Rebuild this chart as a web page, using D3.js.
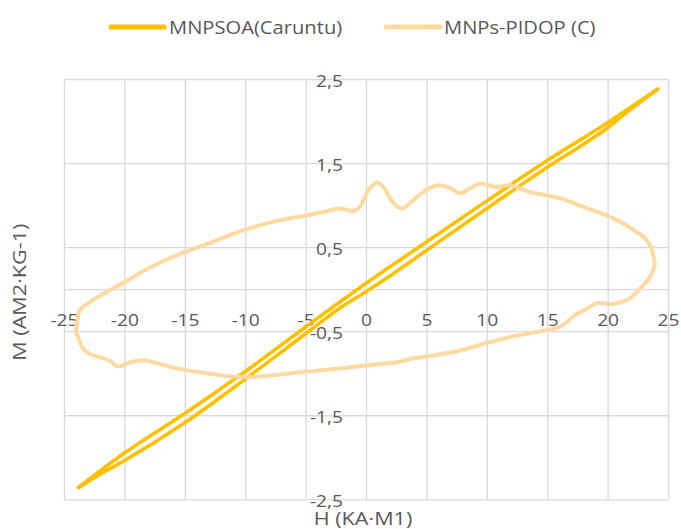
<!DOCTYPE html>
<html>
<head>
<meta charset="utf-8">
<script src="https://cdn.jsdelivr.net/npm/d3@7"></script>
<style>
  html, body { margin: 0; padding: 0; background: #fff; }
  svg { display: block; }
  text { font-family: "Open Sans", "Noto Sans", sans-serif; fill: #595959; }
</style>
</head>
<body>
<svg id="chart" width="681" height="529"></svg>
<script>
// ---------- data ----------
const seriesNames = ["MNPSOA(Caruntu)", "MNPs-PIDOP (C)"];
const seriesColors = ["#FFC000", "#FFD9A0"];

const xTickValues = [-25, -20, -15, -10, -5, 0, 5, 10, 15, 20, 25];
const yTickValues = [-2.5, -1.5, -0.5, 0.5, 1.5, 2.5];

const xTitle = "H (KA·M1)";
const yTitle = "M (AM2·KG-1)";

// MNPSOA (Caruntu): lower (ascending) branch and upper (descending) branch, both listed by increasing H
const soaLowH = [-23.8, -22, -20, -15, -10, -5, -2, 0, 2, 5, 10, 15, 20, 22, 24.15];
const soaLowM = [-2.36, -2.20, -2.04, -1.59, -1.07, -0.53, -0.21, -0.03, 0.16, 0.46, 0.96, 1.45, 1.92, 2.15, 2.38];
const soaHighH = [-23.8, -20, -15, -10, -5, 0, 5, 10, 15, 20, 24.15];
const soaHighM = [-2.36, -1.95, -1.48, -0.98, -0.45, 0.07, 0.56, 1.05, 1.53, 1.98, 2.38];

// MNPs-PIDOP (C): closed loop, traced around
const pidopH = [-24.0, -23.9, -23.7, -22.6, -21.2, -19.8, -18.5, -17.0, -15.0, -12.9, -10.2, -7.7, -4.9, -3.5, -2.3, -1.5, -1.0, -0.5,
  0.2, 0.9, 1.4, 2.3, 3.0, 3.9, 5.0, 6.0, 7.0, 7.8, 8.6, 9.4, 10.8, 11.9, 13.6, 14.8, 16.1, 18.0, 19.9, 21.3, 22.4, 23.0, 23.6, 23.8, 23.9,
  23.5, 22.7, 21.85, 21.2, 20.2, 19.1, 18.3, 17.2, 16.3, 15.6, 14.1, 12.5, 10.0, 7.8, 5.5, 4.0, 2.5, -0.2, -2.2, -5.5, -9.0, -11.0,
  -13.2, -15.8, -18.4, -19.5, -20.6, -21.1, -22.0, -22.9, -23.5, -23.8];
const pidopM = [-0.51, -0.38, -0.25, -0.13, -0.01, 0.10, 0.21, 0.32, 0.44, 0.55, 0.70, 0.80, 0.88, 0.92, 0.96, 0.94, 0.93, 0.98,
  1.18, 1.27, 1.22, 1.02, 0.96, 1.06, 1.18, 1.235, 1.20, 1.14, 1.20, 1.255, 1.215, 1.235, 1.155, 1.12, 1.08, 0.98, 0.88, 0.78, 0.68, 0.62, 0.50, 0.38, 0.30,
  0.14, 0.01, -0.11, -0.15, -0.18, -0.165, -0.23, -0.32, -0.43, -0.47, -0.51, -0.55, -0.64, -0.73, -0.79, -0.82, -0.87, -0.91, -0.945, -0.99, -1.04, -1.04,
  -1.00, -0.94, -0.845, -0.87, -0.92, -0.86, -0.81, -0.77, -0.69, -0.58];

// ---------- layout ----------
const plot = { left: 64, right: 668, top: 79, bottom: 499.3 };
const SX = 1.2; // horizontal text stretch

const svg = d3.select("#chart");
const x = d3.scaleLinear().domain([-25, 25]).range([plot.left, plot.right]);
const y = d3.scaleLinear().domain([-2.5, 2.5]).range([plot.bottom, plot.top]);

const loc = d3.formatLocale({ decimal: ",", thousands: ".", grouping: [3], currency: ["", ""], minus: "-" });
const fmt = v => loc.format("")(v);

// gridlines via axes
const gridX = svg.append("g")
  .attr("transform", `translate(0,${plot.bottom})`)
  .call(d3.axisBottom(x).tickValues(xTickValues).tickSize(-(plot.bottom - plot.top)).tickFormat(""));
const gridY = svg.append("g")
  .attr("transform", `translate(${plot.left},0)`)
  .call(d3.axisLeft(y).tickValues(yTickValues).tickSize(-(plot.right - plot.left)).tickFormat(""));
[gridX, gridY].forEach(g => {
  g.select(".domain").remove();
  g.selectAll("line").attr("stroke", "#d9d9d9").attr("stroke-width", 1.3);
});
// horizontal axis at M = 0
const axX = svg.append("g")
  .attr("transform", `translate(0,${y(0)})`)
  .call(d3.axisBottom(x).tickValues(xTickValues).tickSize(0).tickPadding(26).tickFormat(fmt));
axX.select(".domain").attr("stroke", "#d9d9d9").attr("stroke-width", 1.3);
axX.selectAll("text")
  .attr("font-size", 16).attr("fill", "#595959")
  .attr("font-family", '"Open Sans", sans-serif')
  .attr("transform", `scale(${SX},1)`);

// vertical axis labels at H = 0
const axY = svg.append("g")
  .attr("transform", `translate(${x(0)},0)`)
  .call(d3.axisLeft(y).tickValues(yTickValues).tickSize(0).tickPadding(23).tickFormat(fmt));
axY.select(".domain").remove();
axY.selectAll("text")
  .attr("font-size", 16).attr("fill", "#595959")
  .attr("font-family", '"Open Sans", sans-serif')
  .attr("x", -23 / SX)
  .attr("dy", "0.44em")
  .attr("transform", `scale(${SX},1)`);

// ---------- series ----------
const pidopPts = pidopH.map((h, i) => [h, pidopM[i]]);
const soaLow = soaLowH.map((h, i) => [h, soaLowM[i]]);
const soaHigh = soaHighH.map((h, i) => [h, soaHighM[i]]);

const lineMono = d3.line().x(d => x(d[0])).y(d => y(d[1])).curve(d3.curveMonotoneX);
const lineClosed = d3.line().x(d => x(d[0])).y(d => y(d[1])).curve(d3.curveCatmullRomClosed.alpha(0.5));

[soaLow, soaHigh].forEach(pts => {
  svg.append("path")
    .attr("d", lineMono(pts))
    .attr("fill", "none").attr("stroke", seriesColors[0]).attr("stroke-width", 3.6)
    .attr("stroke-linejoin", "round").attr("stroke-linecap", "round");
});

svg.append("path")
  .attr("d", lineClosed(pidopPts))
  .attr("fill", "none").attr("stroke", seriesColors[1]).attr("stroke-width", 4)
  .attr("stroke-linejoin", "round").attr("stroke-linecap", "round");

// ---------- titles ----------
svg.append("text")
  .attr("transform", `translate(${(plot.left + plot.right) / 2 - 3},525) scale(${SX},1)`)
  .attr("text-anchor", "middle").attr("font-size", 18)
  .text(xTitle);
svg.append("text")
  .attr("transform", `translate(26,${(plot.top + plot.bottom) / 2 + 3}) rotate(-90) scale(${SX},1)`)
  .attr("text-anchor", "middle").attr("font-size", 18)
  .text(yTitle);

// ---------- legend ----------
const legendItems = [
  { name: seriesNames[0], color: seriesColors[0], x0: 111, x1: 164, tx: 169 },
  { name: seriesNames[1], color: seriesColors[1], x0: 386, x1: 440, tx: 444 }
];
const lg = svg.append("g");
legendItems.forEach(it => {
  lg.append("line").attr("x1", it.x0).attr("x2", it.x1).attr("y1", 27).attr("y2", 27)
    .attr("stroke", it.color).attr("stroke-width", 5).attr("stroke-linecap", "round");
  lg.append("text")
    .attr("transform", `translate(${it.tx},34) scale(1.12,1)`)
    .attr("font-size", 18)
    .text(it.name);
});
</script>
</body>
</html>
